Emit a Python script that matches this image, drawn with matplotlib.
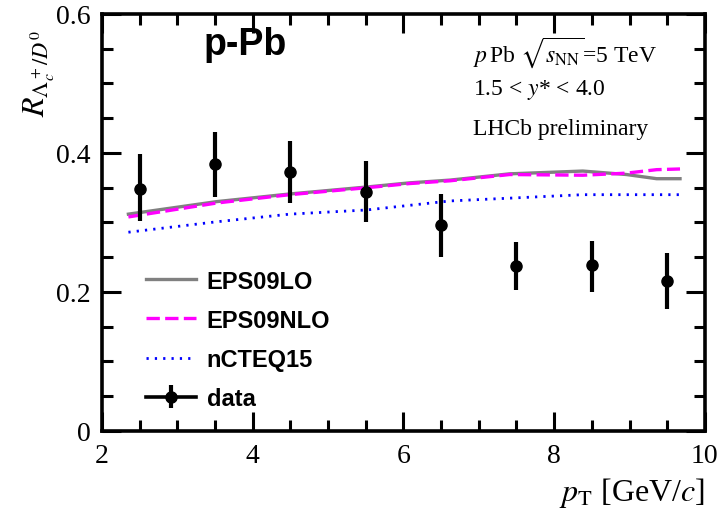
import matplotlib
matplotlib.use("Agg")
import matplotlib.pyplot as plt
from matplotlib.ticker import MultipleLocator
from matplotlib.lines import Line2D

"""Data read off the reference"""
pt = [2.5, 3.5, 4.5, 5.5, 6.5, 7.5, 8.5, 9.5]
ratio = [0.348, 0.384, 0.373, 0.344, 0.296, 0.237, 0.239, 0.216]
err_up = [0.051, 0.046, 0.044, 0.044, 0.045, 0.035, 0.034, 0.040]
err_dn = [0.046, 0.047, 0.045, 0.043, 0.046, 0.034, 0.039, 0.040]

pt_lo = [2.35, 3.52, 4.49, 5.51, 6.08, 6.62, 7.41, 8.38, 8.96, 9.36, 9.67]
eps09lo = [0.312, 0.330, 0.341, 0.351, 0.357, 0.361, 0.370, 0.374, 0.369, 0.363, 0.363]
eps09nlo = [0.308, 0.328, 0.340, 0.350, 0.356, 0.360, 0.369, 0.368, 0.371, 0.376, 0.377]

pt_ct = [2.35, 3.52, 4.49, 5.51, 6.62, 7.41, 8.38, 9.67]
ncteq15 = [0.286, 0.301, 0.312, 0.318, 0.331, 0.335, 0.340, 0.340]

xticks = [2, 4, 6, 8, 10]
yticks = [0, 0.2, 0.4, 0.6]
ytick_labels = ['0', '0.2', '0.4', '0.6']

plt.rcParams['mathtext.fontset'] = 'stix'
serif = 'Liberation Serif'

fig = plt.figure(figsize=(7.2, 5.1), dpi=100)
ax = fig.add_axes([0.1417, 0.153, 0.8373, 0.8176])

ax.plot(pt_lo, eps09lo, color='#808080', lw=2.4, label='EPS09LO')
ax.plot(pt_lo, eps09nlo, color='#ff00ff', lw=2.4, ls=(0, (4, 1.6)), label='EPS09NLO')
ax.plot(pt_ct, ncteq15, color='#0000ff', lw=2.0, ls=(0, (0.8, 2.2)), label='nCTEQ15')
eb = ax.errorbar(pt, ratio, yerr=[err_dn, err_up], fmt='o', color='black', ms=8,
                 elinewidth=3, capsize=0)

ax.set_xlim(2, 10)
ax.set_ylim(0, 0.6)
ax.set_xticks(xticks)
ax.set_xticklabels([str(v) for v in xticks], fontfamily=serif, fontsize=20)
ax.set_yticks(yticks)
ax.set_yticklabels(ytick_labels, fontfamily=serif, fontsize=20)
ax.xaxis.set_minor_locator(MultipleLocator(0.5))
ax.yaxis.set_minor_locator(MultipleLocator(0.05))
ax.tick_params(which='both', direction='in', top=True, right=True, width=2.2)
ax.tick_params(which='major', length=14)
ax.tick_params(which='minor', length=8)
ax.tick_params(axis='x', which='major', pad=9)
ax.tick_params(axis='y', which='major', pad=8)
for s in ax.spines.values():
    s.set_linewidth(2.6)

ax.text(0.168, 0.928, 'p-Pb', transform=ax.transAxes, fontsize=27, fontweight='bold',
        fontfamily='Liberation Sans', ha='left', va='center')
ax.text(0.615, 0.91, r'$p\,$Pb $\sqrt{s_{\rm NN}}$=5 TeV', transform=ax.transAxes,
        fontsize=17, fontfamily=serif, ha='left', va='center')
ax.text(0.615, 0.82, r'1.5 < $y$* < 4.0', transform=ax.transAxes,
        fontsize=17, fontfamily=serif, ha='left', va='center')
ax.text(0.615, 0.725, 'LHCb preliminary', transform=ax.transAxes,
        fontsize=17, fontfamily=serif, ha='left', va='center')

ax.set_ylabel(r'$R_{\Lambda_c^+/D^0}$', fontsize=23)
ax.yaxis.set_label_coords(-0.075, 0.86)
ax.set_xlabel(r'$p_{\rm T}$ [GeV/$c$]', fontsize=23, fontfamily=serif)
ax.xaxis.set_label_coords(1.0, -0.105)
ax.xaxis.label.set_horizontalalignment('right')

data_line = Line2D([], [], color='black', lw=2.6, marker='o', ms=7)
handles, labels = ax.get_legend_handles_labels()
handles.append((data_line, eb))
labels.append('data')
ax.legend(handles, labels, loc='lower left', bbox_to_anchor=(0.058, 0.028), frameon=False,
          prop={'family': 'Liberation Sans', 'weight': 'bold', 'size': 17},
          handlelength=2.1, handletextpad=0.45, labelspacing=0.68, borderaxespad=0)

fig.savefig('out.png', dpi=100)
